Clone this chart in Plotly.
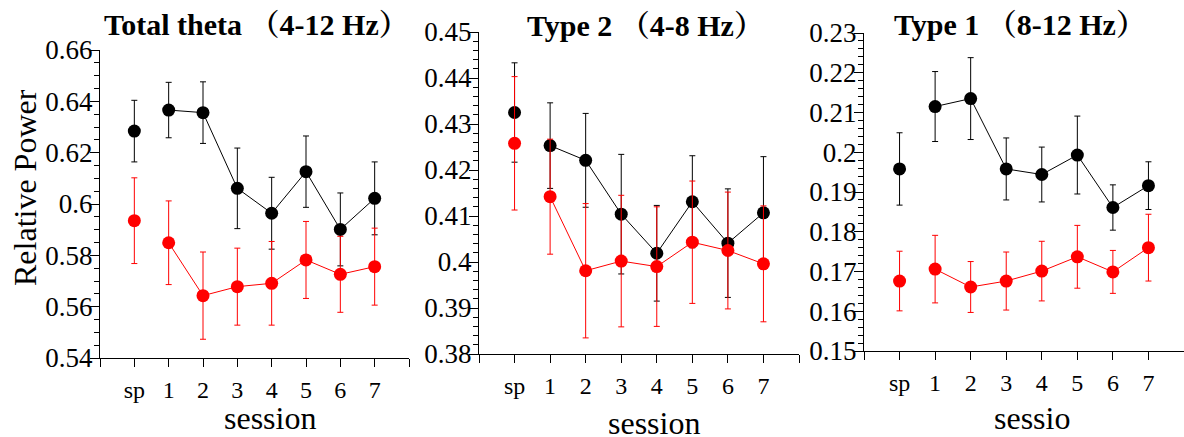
import plotly.graph_objects as go

W, H = 1184, 437

sessions = ["sp", "1", "2", "3", "4", "5", "6", "7"]

titles = ["Total theta （4-12 Hz）", "Type 2 （4-8 Hz）", "Type 1 （8-12 Hz）"]
xlabels = ["session", "session", "sessio"]
ylabel = "Relative Power"

# Panel 1: Total theta
total_black = [0.6284, 0.6366, 0.6356, 0.6061, 0.5964, 0.6126, 0.5901, 0.6022]
total_black_err = [0.0120, 0.0108, 0.0120, 0.0157, 0.0140, 0.0139, 0.0142, 0.0142]
total_red = [0.5935, 0.5849, 0.5643, 0.5678, 0.5691, 0.5782, 0.5726, 0.5756]
total_red_err = [0.0167, 0.0163, 0.0170, 0.0150, 0.0163, 0.0150, 0.0148, 0.0150]

# Panel 2: Type 2
type2_black = [0.4325, 0.4253, 0.4221, 0.4104, 0.4019, 0.4131, 0.4041, 0.4107]
type2_black_err = [0.0108, 0.0093, 0.0102, 0.0130, 0.0104, 0.0100, 0.0118, 0.0122]
type2_red = [0.4258, 0.4142, 0.3981, 0.4002, 0.3990, 0.4043, 0.4025, 0.3996]
type2_red_err = [0.0145, 0.0125, 0.0146, 0.0143, 0.0130, 0.0133, 0.0127, 0.0126]

# Panel 3: Type 1
type1_black = [0.1958, 0.2115, 0.2135, 0.1958, 0.1944, 0.1993, 0.1861, 0.1916]
type1_black_err = [0.0091, 0.0088, 0.0103, 0.0078, 0.0069, 0.0098, 0.0057, 0.0060]
type1_red = [0.1676, 0.1706, 0.1661, 0.1676, 0.1701, 0.1737, 0.1699, 0.1760]
type1_red_err = [0.0075, 0.0085, 0.0064, 0.0073, 0.0075, 0.0079, 0.0054, 0.0084]

y_ranges = [(0.54, 0.66), (0.38, 0.45), (0.15, 0.23)]
y_major = [0.02, 0.01, 0.01]
y_minor = [0.005, 0.002, 0.002]

panels = [
    (total_black, total_black_err, total_red, total_red_err),
    (type2_black, type2_black_err, type2_red, type2_red_err),
    (type1_black, type1_black_err, type1_red, type1_red_err),
]

# pixel boxes of plot areas: (left, right, top, bottom)
boxes = [(100, 409, 50, 358), (479, 799, 32, 354), (864, 1184, 33, 351)]
title_pos = [(256, 24), (645, 25), (1020, 24)]
xlabel_pos = [(270, 418), (654, 423), (1032, 418)]

FONT = "Liberation Serif"
TFONT = "Liberation Serif, Noto Serif CJK JP, Noto Sans CJK JP"

xpos = [i + 1 for i in range(len(sessions))]
tickvals_x = list(range(len(sessions) + 2))
ticktext_x = [""] + sessions + [""]

fig = go.Figure()
layout = dict(
    width=W, height=H,
    margin=dict(l=0, r=0, t=0, b=0, pad=0, autoexpand=False),
    paper_bgcolor="white", plot_bgcolor="white",
    showlegend=False,
    font=dict(family=FONT, color="black"),
    annotations=[],
)

for i, (bk, bke, rd, rde) in enumerate(panels):
    sfx = "" if i == 0 else str(i + 1)
    xa, ya = "x" + sfx, "y" + sfx
    for vals, errs, col in [(bk, bke, "black"), (rd, rde, "#ff0000")]:
        fig.add_trace(go.Scatter(
            x=xpos[1:], y=vals[1:], mode="lines",
            line=dict(color=col, width=1), xaxis=xa, yaxis=ya,
            hoverinfo="skip"))
        fig.add_trace(go.Scatter(
            x=xpos, y=vals, mode="markers",
            marker=dict(color=col, size=13),
            error_y=dict(type="data", array=errs, visible=True,
                         color=col, thickness=1, width=3),
            xaxis=xa, yaxis=ya))
    l, r, t, b = boxes[i]
    layout["xaxis" + sfx] = dict(
        domain=[l / W, r / W], anchor=ya, automargin=False,
        range=[0, len(sessions) + 1],
        tickmode="array", tickvals=tickvals_x, ticktext=ticktext_x,
        ticks="outside", ticklen=8, tickcolor="black", tickwidth=1,
        showline=True, linecolor="black", linewidth=1,
        showgrid=False, zeroline=False,
        tickfont=dict(family=FONT, size=24, color="black"),
        ticklabelstandoff=2,
    )
    y0, y1 = y_ranges[i]
    layout["yaxis" + sfx] = dict(
        domain=[1 - b / H, 1 - t / H], anchor=xa, automargin=False,
        range=[y0, y1],
        tickmode="linear", tick0=y0, dtick=y_major[i],
        ticks="outside", ticklen=9, tickcolor="black", tickwidth=1,
        minor=dict(tick0=y0, dtick=y_minor[i], ticks="outside", ticklen=5,
                   tickcolor="black", tickwidth=1, showgrid=False),
        showline=True, linecolor="black", linewidth=1,
        showgrid=False, zeroline=False,
        tickfont=dict(family=FONT, size=27, color="black"),
        ticklabelstandoff=-8,
    )
    tx, ty = title_pos[i]
    layout["annotations"].append(dict(
        text="<b>" + titles[i] + "</b>", x=tx / W, y=1 - ty / H,
        xref="paper", yref="paper", xanchor="center", yanchor="middle",
        showarrow=False, font=dict(family=TFONT, size=30, color="black")))
    lx, ly = xlabel_pos[i]
    layout["annotations"].append(dict(
        text=xlabels[i], x=lx / W, y=1 - ly / H,
        xref="paper", yref="paper", xanchor="center", yanchor="middle",
        showarrow=False, font=dict(family=FONT, size=32, color="black")))

layout["annotations"].append(dict(
    text=ylabel, x=25 / W, y=1 - 188 / H, textangle=-90,
    xref="paper", yref="paper", xanchor="center", yanchor="middle",
    showarrow=False, font=dict(family=FONT, size=32, color="black")))

fig.update_layout(**layout)
fig.write_html("out.html")
